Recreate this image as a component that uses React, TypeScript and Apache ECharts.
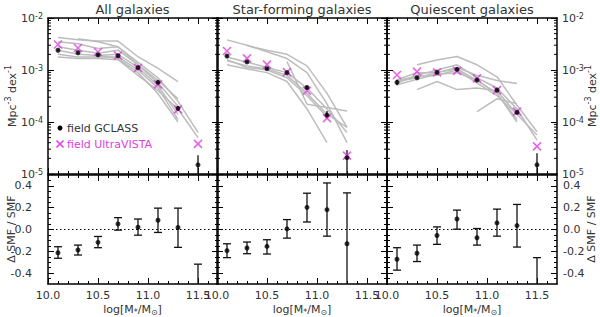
import React, { useEffect, useRef } from 'react';
import * as echarts from 'echarts';

const FONT = 'DejaVu Sans';
const TXT = '#333';
const MAGENTA = '#e040e0';
const GRAY = '#bdbdbd';

const panelTitles = ['All galaxies', 'Star-forming galaxies', 'Quiescent galaxies'];
const massBins = [10.1, 10.3, 10.5, 10.7, 10.9, 11.1, 11.3, 11.5];
const xTickLabels = [10.0, 10.5, 11.0, 11.5];
const smfMinorTicks = [2e-5, 3e-5, 4e-5, 5e-5, 6e-5, 7e-5, 8e-5, 9e-5, 2e-4, 3e-4, 4e-4, 5e-4, 6e-4, 7e-4, 8e-4, 9e-4, 2e-3, 3e-3, 4e-3, 5e-3, 6e-3, 7e-3, 8e-3, 9e-3];
const ratioTickLabels = [-0.4, -0.2, 0.0, 0.2, 0.4];
const ratioMinorTicks = [-0.45, -0.35, -0.3, -0.25, -0.15, -0.1, -0.05, 0.05, 0.1, 0.15, 0.25, 0.3, 0.35, 0.45];

// ---- All galaxies ----
const allGclass = [2.4e-3, 2.15e-3, 1.95e-3, 1.88e-3, 1.11e-3, 5.8e-4, 1.83e-4, 1.5e-5];
const allGclassLo = [2.3e-3, 2.05e-3, 1.87e-3, 1.8e-3, 1.05e-3, 5.4e-4, 1.65e-4, 5e-6];
const allGclassHi = [2.5e-3, 2.25e-3, 2.03e-3, 1.96e-3, 1.17e-3, 6.2e-4, 2.0e-4, 2.3e-5];
const allUvista = [3.1e-3, 2.65e-3, 2.22e-3, 1.9e-3, 1.1e-3, 5.3e-4, 1.75e-4, 3.8e-5];
const allClusters = [
  [4.2e-3, 3.8e-3, 3.6e-3, 3.6e-3, 1.8e-3, 1.07e-3, 6.0e-4, null],
  [3.5e-3, 3.2e-3, 2.6e-3, 2.8e-3, 1.4e-3, 7.1e-4, 2.5e-4, 6.3e-5],
  [2.8e-3, 2.4e-3, 2.1e-3, 2.4e-3, 1.26e-3, 5.6e-4, 2.0e-4, null],
  [2.4e-3, 2.0e-3, 1.9e-3, 2.0e-3, 1.12e-3, 5.0e-4, 1.4e-4, null],
  [2.0e-3, 1.78e-3, 1.78e-3, 1.78e-3, 1.0e-3, 4.5e-4, 1.12e-4, null],
  [null, null, 1.9e-3, 1.66e-3, 8.9e-4, 3.5e-4, 1.0e-4, null],
  [null, 4.0e-3, 3.5e-3, 2.8e-3, 1.26e-3, 6.3e-4, 2.8e-4, null],
  [1.78e-3, 1.66e-3, 1.66e-3, 1.58e-3, 7.9e-4, 4.0e-4, 1.78e-4, 5.0e-5],
];
const allRatio = [-0.213, -0.188, -0.118, 0.051, 0.021, 0.085, 0.018, -0.75];
const allRatioLo = [-0.264, -0.234, -0.167, -0.006, -0.052, -0.027, -0.164, -1.2];
const allRatioHi = [-0.158, -0.143, -0.064, 0.109, 0.096, 0.196, 0.196, -0.318];

// ---- Star-forming galaxies ----
const sfGclass = [1.86e-3, 1.43e-3, 1.06e-3, 8.9e-4, 4.6e-4, 1.36e-4, 2.06e-5];
const sfGclassLo = [1.78e-3, 1.37e-3, 1.01e-3, 8.5e-4, 4.3e-4, 1.15e-4, 5e-6];
const sfGclassHi = [1.94e-3, 1.5e-3, 1.11e-3, 9.3e-4, 4.9e-4, 1.62e-4, 2.9e-5];
const sfUvista = [2.32e-3, 1.67e-3, 1.27e-3, 9.1e-4, 4.0e-4, 1.19e-4, 2.25e-5];
const sfClusters = [
  [3.8e-3, 3.0e-3, 2.24e-3, 1.66e-3, 8.9e-4, 2.24e-4, 4.0e-5],
  [null, 2.95e-3, 2.4e-3, 2.0e-3, 1.2e-3, 3.55e-4, 7.9e-5],
  [1.78e-3, 1.41e-3, 1.12e-3, 8.9e-4, 4.5e-4, 1.78e-4, 6.3e-5],
  [1.5e-3, 1.2e-3, 1.05e-3, 7.9e-4, 3.55e-4, 1.41e-4, 7.9e-5],
  [1.26e-3, 1.05e-3, 8.9e-4, 6.0e-4, 1.78e-4, 4.0e-5, null],
  [null, null, null, 1.45e-3, 2.2e-4, 1.9e-4, 1.62e-4],
  [1.58e-3, 1.12e-3, 1.0e-3, 7.1e-4, 3.2e-4, 1.26e-4, null],
];
const sfRatio = [-0.194, -0.17, -0.155, 0.006, 0.203, 0.182, -0.131];
const sfRatioLo = [-0.258, -0.222, -0.225, -0.079, 0.069, -0.061, -0.6];
const sfRatioHi = [-0.131, -0.115, -0.094, 0.091, 0.333, 0.427, 0.336];

// ---- Quiescent galaxies ----
const qGclass = [5.8e-4, 7.1e-4, 9.0e-4, 1.03e-3, 6.4e-4, 4.1e-4, 1.53e-4, 1.5e-5];
const qGclassLo = [5.1e-4, 6.8e-4, 8.6e-4, 9.8e-4, 6.1e-4, 3.9e-4, 1.42e-4, 5e-6];
const qGclassHi = [6.5e-4, 7.4e-4, 9.4e-4, 1.08e-3, 6.7e-4, 4.3e-4, 1.65e-4, 2.5e-5];
const qUvista = [8.0e-4, 9.3e-4, 9.0e-4, 9.6e-4, 6.9e-4, 4.1e-4, 1.58e-4, 3.4e-5];
const qClusters = [
  [null, 1.26e-3, 1.55e-3, 1.82e-3, 1.26e-3, 7.4e-4, 2.1e-4, 6.5e-5],
  [6.5e-4, 8.9e-4, 8.9e-4, 1.12e-3, 7.9e-4, 6.3e-4, 5.5e-4, null],
  [5.6e-4, 7.9e-4, 1.0e-3, 1.26e-3, 7.1e-4, 4.5e-4, 1.78e-4, 4.5e-5],
  [null, 4.2e-4, 6.0e-4, 4.2e-4, 4.5e-4, 4.0e-4, 1.41e-4, null],
  [6.0e-4, 7.1e-4, 8.9e-4, 1.05e-3, 6.3e-4, 3.55e-4, 1.12e-4, null],
  [null, null, null, null, 1.58e-4, 2.8e-4, 2.24e-4, null],
  [6.3e-4, 7.6e-4, 7.9e-4, 1.0e-3, 5.6e-4, 3.2e-4, 1.41e-4, 5.6e-5],
  [5.2e-4, 6.6e-4, 8.3e-4, 8.9e-4, 6.3e-4, 3.55e-4, 1.0e-4, null],
];
const qRatio = [-0.273, -0.218, -0.055, 0.096, -0.076, 0.06, 0.036, -0.75];
const qRatioLo = [-0.373, -0.294, -0.136, 0.003, -0.143, -0.061, -0.161, -1.2];
const qRatioHi = [-0.167, -0.143, 0.024, 0.178, 0.009, 0.187, 0.23, -0.258];

const panels = [
  { gc: allGclass, gcLo: allGclassLo, gcHi: allGclassHi, uv: allUvista, cl: allClusters, r: allRatio, rLo: allRatioLo, rHi: allRatioHi },
  { gc: sfGclass, gcLo: sfGclassLo, gcHi: sfGclassHi, uv: sfUvista, cl: sfClusters, r: sfRatio, rLo: sfRatioLo, rHi: sfRatioHi },
  { gc: qGclass, gcLo: qGclassLo, gcHi: qGclassHi, uv: qUvista, cl: qClusters, r: qRatio, rLo: qRatioLo, rHi: qRatioHi },
];

const X_MIN = 10.0;
const X_MAX = 11.7;
const colLeft = [48, 217, 387];
const colWidth = 170;

function makeErrRender(yMin: number, yMax: number, cap: number) {
  return (params: any, api: any) => {
    const x = api.value(0);
    const lo = api.value(2);
    const hi = api.value(3);
    const loC = Math.max(lo, yMin);
    const hiC = Math.min(hi, yMax);
    const p1 = api.coord([x, loC]);
    const p2 = api.coord([x, hiC]);
    const st = { stroke: '#111', lineWidth: 1.3 };
    const children: any[] = [
      { type: 'line', shape: { x1: p1[0], y1: p1[1], x2: p2[0], y2: p2[1] }, style: st },
    ];
    if (cap > 0) {
      if (lo >= yMin) children.push({ type: 'line', shape: { x1: p1[0] - cap, y1: p1[1], x2: p1[0] + cap, y2: p1[1] }, style: st });
      if (hi <= yMax) children.push({ type: 'line', shape: { x1: p2[0] - cap, y1: p2[1], x2: p2[0] + cap, y2: p2[1] }, style: st });
    }
    return { type: 'group', children };
  };
}

// minor ticks of the log axes, placed through the axis scale at both frame edges
function minorTickRender(params: any, api: any) {
  const v = api.value(0);
  const pl = api.coord([X_MIN, v]);
  const pr = api.coord([X_MAX, v]);
  const st = { stroke: '#000', lineWidth: 1 };
  return {
    type: 'group',
    children: [
      { type: 'line', shape: { x1: pl[0], y1: pl[1], x2: pl[0] + 3, y2: pl[1] }, style: st },
      { type: 'line', shape: { x1: pr[0], y1: pr[1], x2: pr[0] - 3, y2: pr[1] }, style: st },
    ],
  };
}

const supRich = {
  b: { fontSize: 11, fontFamily: FONT, color: TXT, lineHeight: 11, verticalAlign: 'bottom' },
  s: { fontSize: 8, fontFamily: FONT, color: TXT, lineHeight: 7, verticalAlign: 'top' },
};

function buildOption() {
  const grid: any[] = [];
  const xAxis: any[] = [];
  const yAxis: any[] = [];
  const series: any[] = [];

  for (let row = 0; row < 2; row++) {
    for (let c = 0; c < 3; c++) {
      const g = row * 3 + c;
      grid.push({
        left: colLeft[c],
        width: colWidth,
        top: row === 0 ? 18 : 175,
        height: row === 0 ? 156 : 109,
      });
      for (const pos of ['bottom', 'top']) {
        xAxis.push({
          gridIndex: g,
          type: 'value',
          position: pos,
          min: X_MIN,
          max: X_MAX,
          interval: 0.5,
          axisLine: { show: true, onZero: false, lineStyle: { color: '#000', width: 1.5 } },
          axisTick: { show: true, inside: true, length: 6, customValues: xTickLabels, lineStyle: { color: '#000', width: 1 } },
          minorTick: { show: true, splitNumber: 5, length: 3, lineStyle: { color: '#000', width: 1 } },
          splitLine: { show: false },
          axisLabel: {
            show: row === 1 && pos === 'bottom',
            customValues: xTickLabels,
            formatter: (v: number) => v.toFixed(1),
            margin: 6,
            fontSize: 11,
            fontFamily: FONT,
            color: TXT,
          },
        });
      }
      const yBase: any = row === 0
        ? { type: 'log', logBase: 10, min: 1e-5, max: 1e-2 }
        : { type: 'value', min: -0.5, max: 0.5, interval: 0.1 };
      for (const pos of ['left', 'right']) {
        const showLabel = (c === 0 && pos === 'left') || (c === 2 && pos === 'right');
        yAxis.push({
          ...yBase,
          gridIndex: g,
          position: pos,
          axisLine: { show: true, onZero: false, lineStyle: { color: '#000', width: 1.5 } },
          axisTick: {
            show: true, inside: true, length: 6,
            lineStyle: { color: '#000', width: 1 },
            ...(row === 1 ? { customValues: ratioTickLabels } : {}),
          },
          splitLine: { show: false },
          axisLabel: row === 0
            ? {
                show: showLabel,
                margin: 5,
                formatter: (v: number) => `{b|10}{s|${Math.round(Math.log10(v))}}`,
                rich: supRich,
              }
            : {
                show: showLabel,
                customValues: ratioTickLabels,
                margin: pos === 'left' ? 16 : 6,
                formatter: (v: number) => v.toFixed(1),
                fontSize: 11,
                lineHeight: 11,
                fontFamily: FONT,
                color: TXT,
              },
        });
      }
      for (const pos of ['left', 'right']) {
        yAxis.push({
          ...yBase,
          gridIndex: g,
          position: pos,
          axisLine: { show: false },
          axisTick: row === 1
            ? { show: true, inside: true, length: 3, lineStyle: { color: '#000', width: 1 }, customValues: ratioMinorTicks }
            : { show: false },
          splitLine: { show: false },
          axisLabel: { show: false },
        });
      }
    }
  }

  panels.forEach((p, c) => {
    // top row
    const xi = c * 2;
    const yi = c * 4;
    series.push({
      type: 'custom', xAxisIndex: xi, yAxisIndex: yi, z: 6, silent: true,
      renderItem: minorTickRender,
      encode: { y: 0 },
      data: smfMinorTicks.map((v) => [v]),
    });
    p.cl.forEach((line) => {
      const pts: number[][] = [];
      line.forEach((v, i) => { if (v !== null) pts.push([massBins[i], v as number]); });
      series.push({
        type: 'line', xAxisIndex: xi, yAxisIndex: yi, data: pts, symbol: 'none', silent: true,
        lineStyle: { color: GRAY, width: 1.5 }, z: 1,
      });
    });
    series.push({
      type: 'custom', xAxisIndex: xi, yAxisIndex: yi, z: 3,
      renderItem: makeErrRender(1e-5, 1e-2, 0),
      encode: { x: 0, y: 1 },
      data: p.gc.map((v, i) => [massBins[i], v, p.gcLo[i], p.gcHi[i]]),
    });
    series.push({
      type: 'scatter', xAxisIndex: xi, yAxisIndex: yi, z: 4,
      symbol: 'path://M0,0L10,10M10,0L0,10', symbolSize: 8,
      itemStyle: { color: 'none', borderColor: MAGENTA, borderWidth: 1.6 },
      data: p.uv.map((v, i) => [massBins[i], v]),
    });
    series.push({
      type: 'scatter', xAxisIndex: xi, yAxisIndex: yi, z: 5,
      symbol: 'circle', symbolSize: 5,
      itemStyle: { color: '#000' },
      data: p.gc.map((v, i) => [massBins[i], v]),
    });

    // bottom row
    const xb = (3 + c) * 2;
    const yb = (3 + c) * 4;
    series.push({
      type: 'line', xAxisIndex: xb, yAxisIndex: yb, symbol: 'none', silent: true,
      data: [[X_MIN, 0], [X_MAX, 0]],
      lineStyle: { color: '#000', width: 1, type: [1.5, 2.5] }, z: 1,
    });
    series.push({
      type: 'custom', xAxisIndex: xb, yAxisIndex: yb, z: 3,
      renderItem: makeErrRender(-0.5, 0.5, 4),
      encode: { x: 0, y: 1 },
      data: p.r.map((v, i) => [massBins[i], v, p.rLo[i], p.rHi[i]]),
    });
    series.push({
      type: 'scatter', xAxisIndex: xb, yAxisIndex: yb, z: 5, clip: true,
      symbol: 'circle', symbolSize: 5,
      itemStyle: { color: '#000' },
      data: p.r.map((v, i) => [massBins[i], v]),
    });
  });

  const titleCenters = [132.5, 302, 472];
  const graphic: any[] = [];
  panelTitles.forEach((t, i) => {
    graphic.push({
      type: 'text', x: titleCenters[i], y: 9,
      style: { text: t, align: 'center', verticalAlign: 'middle', fontSize: 13, fontFamily: FONT, fill: TXT },
    });
    graphic.push({
      type: 'text', x: titleCenters[i], y: 309,
      style: {
        text: 'log[M{s|*}/M{s|⊙}]', align: 'center', verticalAlign: 'middle',
        fontSize: 11, fontFamily: FONT, fill: TXT,
        rich: { s: { fontSize: 8, fontFamily: FONT, fill: TXT, verticalAlign: 'bottom', lineHeight: 14 } },
      },
    });
  });
  const nameRich = { s: { fontSize: 8, fontFamily: FONT, fill: TXT, verticalAlign: 'top', lineHeight: 8 }, b: { fontSize: 11, fontFamily: FONT, fill: TXT, lineHeight: 13, verticalAlign: 'bottom' } };
  for (const xc of [11, 591]) {
    graphic.push({
      type: 'text', x: xc, y: 96, rotation: Math.PI / 2,
      style: { text: '{b|Mpc}{s|-3}{b| dex}{s|-1}', rich: nameRich, align: 'center', verticalAlign: 'middle', fontSize: 11, fontFamily: FONT, fill: TXT },
    });
    graphic.push({
      type: 'text', x: xc, y: 229, rotation: Math.PI / 2,
      style: { text: 'Δ SMF / SMF', align: 'center', verticalAlign: 'middle', fontSize: 11, fontFamily: FONT, fill: TXT },
    });
  }
  // legend
  graphic.push({ type: 'circle', shape: { cx: 60, cy: 128, r: 2.5 }, style: { fill: '#000' } });
  graphic.push({ type: 'text', x: 67, y: 128, style: { text: 'field GCLASS', align: 'left', verticalAlign: 'middle', fontSize: 11, fontFamily: FONT, fill: TXT } });
  graphic.push({ type: 'line', shape: { x1: 56.5, y1: 140.5, x2: 63.5, y2: 147.5 }, style: { stroke: MAGENTA, lineWidth: 1.6 } });
  graphic.push({ type: 'line', shape: { x1: 63.5, y1: 140.5, x2: 56.5, y2: 147.5 }, style: { stroke: MAGENTA, lineWidth: 1.6 } });
  graphic.push({ type: 'text', x: 67, y: 144, style: { text: 'field UltraVISTA', align: 'left', verticalAlign: 'middle', fontSize: 11, fontFamily: FONT, fill: MAGENTA } });

  return {
    animation: false,
    backgroundColor: '#fff',
    textStyle: { fontFamily: FONT },
    grid, xAxis, yAxis, series, graphic,
  };
}

export default function App() {
  const ref = useRef<HTMLDivElement>(null);
  useEffect(() => {
    if (!ref.current) return;
    const chart = echarts.init(ref.current, undefined, { renderer: 'svg' });
    chart.setOption(buildOption() as any);
    return () => chart.dispose();
  }, []);
  return <div ref={ref} style={{ width: 600, height: 317, position: 'absolute', left: 0, top: 0 }} />;
}
